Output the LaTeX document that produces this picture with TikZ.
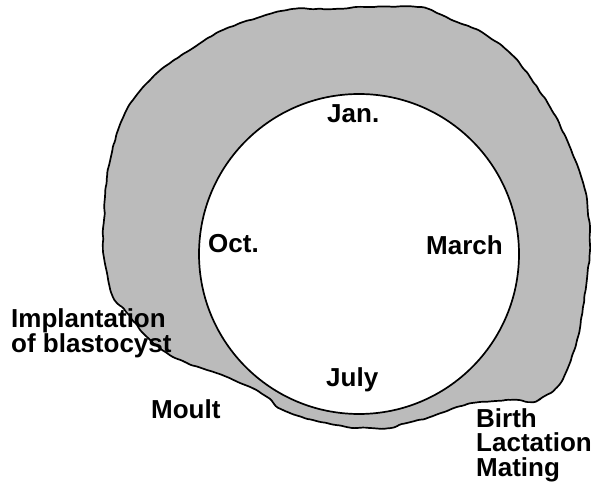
\documentclass[tikz,border=0pt]{standalone}
\usepackage{fontspec}
\setmainfont{Liberation Sans}
\usetikzlibrary{decorations.pathmorphing}
\definecolor{blobgray}{HTML}{BBBBBB}
\tikzset{
  outline/.style={draw=black, line width=1.7pt},
  lbl/.style={font=\bfseries\fontsize{26}{25}\selectfont, inner sep=0pt, anchor=base west, align=left},
}
\begin{document}
\begin{tikzpicture}[x=1pt,y=-1pt]
\useasboundingbox (0,0) rectangle (595,486);
\pgfmathsetseed{7}
% outer irregular band
\path[outline, fill=blobgray, decorate, decoration={random steps, segment length=5pt, amplitude=0.6pt}, rounded corners=1.5pt]
  plot[smooth cycle, tension=0.5] coordinates {
  (293,9) (333,9) (367,7) (417,7) (437,13) (457,22) (483,33) (510,53) (530,77)
  (550,107) (567,140) (580,173) (587,200) (590,250) (583,307) (577,340)
  (567,370) (557,387) (543,397) (533,402) (513,400) (480,402) (457,407)
  (430,417) (407,423) (390,428) (370,428) (347,427) (313,420) (283,410)
  (267,397) (250,387) (227,377) (207,370) (187,363) (167,353) (147,337)
  (127,313) (113,297) (107,273) (103,250) (104,220) (107,177) (117,133)
  (133,100) (157,73) (190,50) (223,30) (260,17)};
% inner circle
\node[outline, fill=white, circle, minimum size=320pt, inner sep=0pt] (year) at (359,254) {};
% labels
\node[lbl] (jan) at (327,123) {Jan.};
\node[lbl] (oct) at (208,253) {Oct.};
\node[lbl] (march) at (426,255) {March};
\node[lbl] (july) at (326,387) {July};
\node[lbl] (moult) at (151,419) {Moult};
\node[lbl, font=\bfseries\fontsize{26}{22}\selectfont] (impl) at (11,353) {Implantation\\of blastocyst};
\node[lbl] (birth) at (476,477) {Birth\\Lactation\\Mating};
\end{tikzpicture}
\end{document}
